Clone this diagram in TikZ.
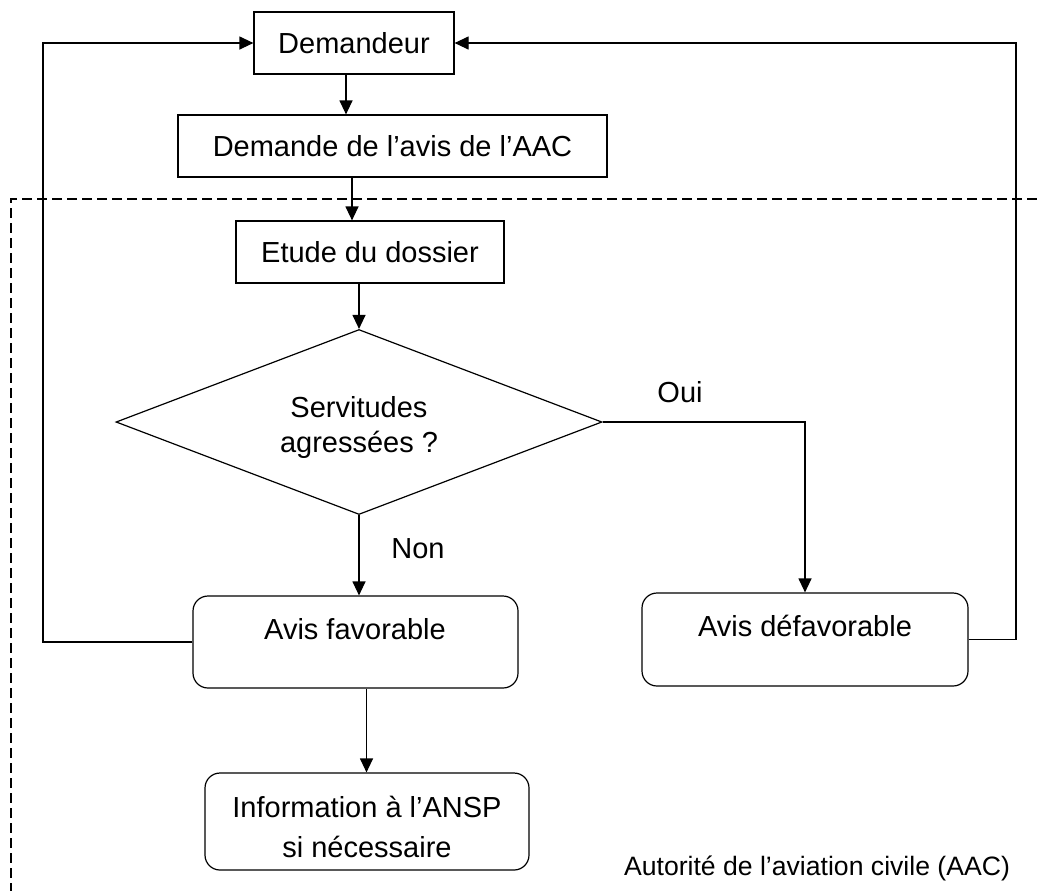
\documentclass[tikz,border=0pt]{standalone}
\usepackage{fontspec}
\setmainfont{Liberation Sans}
\usetikzlibrary{arrows.meta,shapes.geometric,calc}
\begin{document}
\begin{tikzpicture}[x=0.5pt,y=-0.5pt,
  every node/.style={font=\fontsize{14.5pt}{18pt}\selectfont},
  arr/.style={line width=0.6pt,-{Triangle[length=7pt,width=6.5pt]}},
  sqbox/.style={draw,line width=0.6pt,rectangle,inner sep=0pt},
  rbox/.style={draw,line width=0.6pt,rectangle,rounded corners=7.5pt,inner sep=0pt},
  lbl/.style={inner sep=0pt,align=center}]
\useasboundingbox (0,0) rectangle (1037,891);
% AAC boundary
\draw[line width=0.6pt,dash pattern=on 5pt off 2.5pt] (1037,199) -- (11,199) -- (11,891);
% nodes
\node[sqbox,minimum width=100pt,minimum height=31pt] (dem) at (354,43) {Demandeur};
\node[sqbox,minimum width=214.5pt,minimum height=31pt] (req) at (392.5,146) {Demande de l’avis de l’AAC};
\node[sqbox,minimum width=134pt,minimum height=31pt] (etude) at (370,252) {Etude du dossier};
\node[diamond,draw,line width=0.6pt,inner sep=0pt,aspect=2.63,minimum width=243pt,minimum height=92.5pt] (dec) at (359,422) {};
\node[lbl,font=\fontsize{14.5pt}{17.5pt}\selectfont] (dectxt) at (359,427) {Servitudes\\agressées ?};
\node[rbox,minimum width=162.5pt,minimum height=46pt] (fav) at (355.5,642) {};
\node[lbl] (favtxt) at (355,629) {Avis favorable};
\node[rbox,minimum width=163pt,minimum height=46.5pt] (defav) at (805,639.5) {};
\node[lbl] (defavtxt) at (805,626) {Avis défavorable};
\node[rbox,minimum width=162pt,minimum height=48.5pt] (info) at (367,821.5) {};
\node[lbl,font=\fontsize{14.5pt}{20pt}\selectfont] (infotxt) at (367,827) {Information à l’ANSP\\si nécessaire};
\node[lbl] (oui) at (680,392) {Oui};
\node[lbl] (non) at (418,549) {Non};
\node[lbl,font=\fontsize{13.3pt}{16pt}\selectfont] (aac) at (817,868) {Autorité de l’aviation civile (AAC)};
% connectors
\draw[arr] ([xshift=-4pt]dem.south) -- ([xshift=-4pt]dem.south |- req.north);
\draw[arr] ([xshift=-20.25pt]req.south) -- ([xshift=-20.25pt]req.south |- etude.north);
\draw[arr] (dec.north |- etude.south) -- (dec.north);
\draw[arr] (dec.east) -| (defav.north);
\draw[arr] (dec.south) -- (dec.south |- fav.north);
\draw[arr] ([xshift=5.5pt]fav.south) -- ([xshift=5.5pt]fav.south |- info.north);
\coordinate (lc) at (43,43);
\coordinate (rc) at (1016,43);
\draw[arr] (fav.west) -| (lc) -- (dem.west);
\draw[arr] (defav.east) -| (rc) -- (dem.east);
\end{tikzpicture}
\end{document}
